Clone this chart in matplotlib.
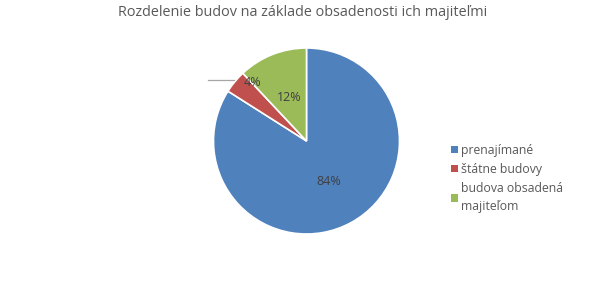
import numpy as np
import matplotlib.pyplot as plt
from matplotlib.patches import Patch

# data
labels = ['prenajímané', 'štátne budovy', 'budova obsadená\nmajiteľom']
values = [84, 4, 12]
colors = ['#4F81BD', '#C0504D', '#9BBB59']
title = 'Rozdelenie budov na základe obsadenosti ich majiteľmi'

plt.rcParams['font.family'] = ['Open Sans', 'DejaVu Sans']

W, H = 612, 291
fig = plt.figure(figsize=(W / 100, H / 100), dpi=100)
ax = fig.add_axes([0, 0, 1, 1])

cx, cy, r = 306.5, H - 141, 93
wedges, _ = ax.pie(values, colors=colors, startangle=90, counterclock=False,
                   center=(cx, cy), radius=r,
                   wedgeprops=dict(edgecolor='white', linewidth=1.2))
ax.set_xlim(0, W)
ax.set_ylim(0, H)
ax.set_aspect('equal')
ax.axis('off')

# percentage labels
total = sum(values)
for w, v in zip(wedges, values):
    ang = np.deg2rad((w.theta1 + w.theta2) / 2)
    x = cx + 0.5 * r * np.cos(ang)
    y = cy + 0.5 * r * np.sin(ang)
    if v <= 5:
        # small slice: label pushed to the rim with a leader line
        x, y = cx - 0.58 * r, cy + 0.63 * r
        ax.plot([x - 45, x - 19], [y + 2, y + 2], color='#A6A6A6', lw=0.9)
    ax.text(x, y, f'{v / total * 100:.0f}%', ha='center', va='center',
            fontsize=9, color='#404040')

fig.text(0.495, 1 - 12 / H, title, ha='center', va='center',
         fontsize=10.4, color='#595959')

handles = [Patch(facecolor=c, edgecolor='none') for c in colors]
leg = ax.legend(handles, labels, loc='upper left',
                bbox_to_anchor=(446 / W, 1 - 139 / H), frameon=False,
                fontsize=8.8, handlelength=0.55, handleheight=0.55,
                handletextpad=0.25, labelspacing=0.5, borderaxespad=0)
for t in leg.get_texts():
    t.set_color('#595959')
    t.set_linespacing(1.45)

fig.savefig('out.png', dpi=100, facecolor='white')
